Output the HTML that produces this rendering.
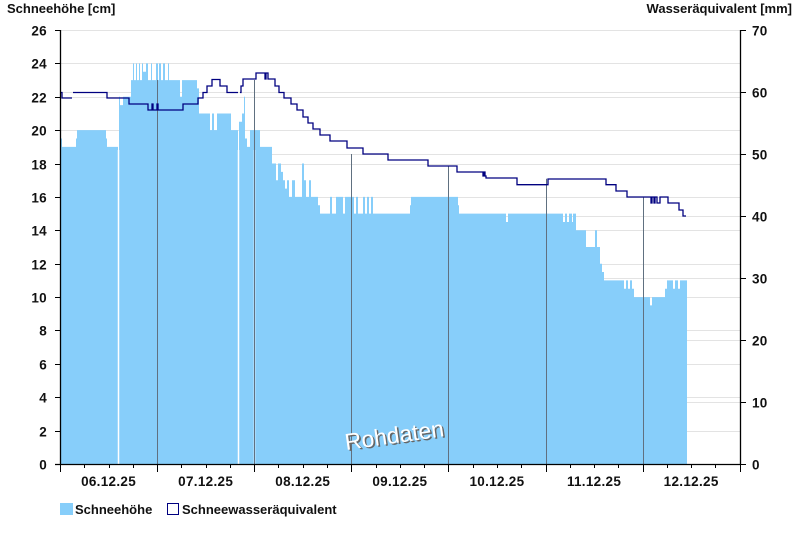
<!DOCTYPE html>
<html><head><meta charset="utf-8"><style>
body{margin:0;background:#fff;}
svg text{font-family:"Liberation Sans",Arial,sans-serif;font-weight:bold;font-size:13px;fill:#111;}
svg text.tk{font-size:13.5px;letter-spacing:0.3px;}
</style></head><body>
<svg width="800" height="550" viewBox="0 0 800 550" xmlns="http://www.w3.org/2000/svg">
<rect width="800" height="550" fill="#fff"/>
<g id="grid" stroke="#e3e3e3" stroke-width="1"></g>
<path id="snow" fill="#87CEFA" stroke="none"/>
<g stroke="#fff" stroke-width="1.5">
<line x1="118.5" y1="150" x2="118.5" y2="464"/>
<line x1="238.5" y1="150" x2="238.5" y2="464"/>
<line x1="254.5" y1="150" x2="254.5" y2="464"/>
</g>
<g id="days" stroke="#607080" stroke-width="1"></g>
<path id="swe" fill="none" stroke="#000080" stroke-width="1.3"/>
<g transform="translate(346,450) rotate(-8)">
<text x="1.5" y="1.5" style="font-size:23px;font-weight:normal;fill:#666">Rohdaten</text>
<text x="0" y="0" style="font-size:23px;font-weight:normal;fill:#fff">Rohdaten</text>
</g>
<g stroke="#000" stroke-width="1.3">
<line x1="60.5" y1="30" x2="60.5" y2="464"/>
<line x1="740.5" y1="30" x2="740.5" y2="464"/>
<line x1="55" y1="464.5" x2="740" y2="464.5"/>
</g>
<g id="ticks" stroke="#000" stroke-width="1"></g>
<g id="labels"></g>
<text x="7" y="13">Schneehöhe [cm]</text>
<text x="792" y="13" text-anchor="end">Wasseräquivalent [mm]</text>
<rect x="60" y="503" width="13" height="12" fill="#87CEFA"/>
<text x="75" y="514">Schneehöhe</text>
<rect x="167.5" y="503.5" width="11" height="11" fill="#fff" stroke="#000080"/>
<text x="182" y="514">Schneewasseräquivalent</text>
</svg>
<script>
const yL=v=>464-v*434/26, yR=v=>464-v*434/70;
let g='',t='',l='';
for(let v=0;v<=26;v+=2){const y=Math.round(yL(v))+.5; if(v>0)g+=`<line x1="61" y1="${y}" x2="740" y2="${y}"/>`; t+=`<line x1="55" y1="${y}" x2="60" y2="${y}"/>`; l+=`<text class="tk" x="47" y="${y+5}" text-anchor="end">${v}</text>`;}
for(let v=0;v<=70;v+=10){const y=Math.round(yR(v))+.5; if(v>0)g+=`<line x1="61" y1="${y}" x2="740" y2="${y}"/>`; t+=`<line x1="740" y1="${y}" x2="746" y2="${y}"/>`; l+=`<text class="tk" x="752" y="${y+5}">${v}</text>`;}
document.getElementById('grid').innerHTML=g;
const d0=60,dw=97.1;let dl='';
const days=['06.12.25','07.12.25','08.12.25','09.12.25','10.12.25','11.12.25','12.12.25'];
for(let i=0;i<7;i++){const x=d0+i*dw;
 for(let q=0;q<4;q++){const xx=Math.round(x+q*dw/4)+.5;t+=`<line x1="${xx}" y1="464" x2="${xx}" y2="${q==0?472:468}"/>`;}
 l+=`<text class="tk" x="${x+dw/2}" y="486" text-anchor="middle">${days[i]}</text>`;
 if(i>0){const xx=Math.round(x)+.5; if(xx<688) dl+=`<line x1="${xx}" y1="${i==1||i==2?80:yR(i==3?50:i==4?48:i==5?46:43)}" x2="${xx}" y2="464"/>`;}
}
t+=`<line x1="740.5" y1="464" x2="740.5" y2="472"/>`;
document.getElementById('days').innerHTML=dl;
document.getElementById('ticks').innerHTML=t;
document.getElementById('labels').innerHTML=l;
const S=[[61,19.5],[62,19],[76,19.5],[77,20],[106,19.5],[107,19],[118,0],[119,22],[120,21.5],[123,22],[131,23],[133,24],[134,23],[136,24],[137,23],[139,24],[140,23],[142,24],[143,23.5],[146,24],[148,23],[151,24],[152,23],[156,24],[158,23],[159,24],[161,23],[163,24],[165,23],[168,24],[169,23],[180,22],[182,23],[197,22.5],[199,21],[210,20],[212,21],[214,20],[217,21],[220,21],[231,20],[234,20],[238,0],[239,20.5],[242,21],[244,22],[245,19.5],[247,19],[250,20],[260,19],[272,18],[276,17],[278,18],[281,17.5],[283,17],[285,16.5],[287,17],[289,16],[292,17],[295,16],[302,18],[304,17],[306,16],[309,17],[311,16],[318,15.5],[320,15],[330,16],[332,15],[336,16],[340,16],[343,15],[345,16],[354,15],[356,16],[358,15],[363,16],[365,15],[367,16],[369,15],[371,16],[373,15],[385,15],[410,15.5],[411,16],[458,15.5],[459,15],[506,14.5],[508,15],[563,14.5],[565,15],[567,14.5],[569,15],[572,14.5],[573,15],[576,14],[586,13],[595,14],[597,13],[600,12],[602,11.5],[604,11],[624,10.5],[626,11],[628,10.5],[630,11],[632,10.5],[634,10],[650,9.5],[652,10],[665,10.5],[667,11],[673,10.5],[675,11],[678,10.5],[680,11],[687,0]];
let p='M61 464';for(let i=0;i<S.length;i++){const [x,v]=S[i];p+=` L${x} ${yL(v)}`;const nx=i+1<S.length?S[i+1][0]:x;p+=` L${nx} ${yL(v)}`;}
p+=' L687 464 Z';document.getElementById('snow').setAttribute('d',p);
const W=[[61,92.5],[62,98],[72,null],[73,92.5],[107,98],[129,104],[148,110],[152,104],[153,110],[157,104],[158,110],[183,104],[198,98],[203,92.5],[207,86],[212,79.5],[220,86],[227,92.5],[238,null],[240,92.5],[241,86],[243,79],[256,73],[265,79],[266,73],[268,79],[275,86],[279,92.5],[284,98],[291,104],[297,110],[303,117],[308,123],[313,129],[320,135],[330,141],[347,148],[363,154],[388,160],[428,166],[457,172],[483,176],[484,172],[485,176],[486,178],[517,184.7],[548,179],[606,184.7],[616,191],[627,197],[651,203],[652,197],[654,203],[655,197],[657,203],[660,197],[668,203],[679,210],[683,216],[686,216]];
let q='';let pen=false;
for(let i=0;i<W.length;i++){const [x,y]=W[i];const nx=i+1<W.length?W[i+1][0]:x;
 if(y===null){pen=false;continue;}
 q+=(pen?` L${x} ${y}`:` M${x} ${y}`)+` L${nx} ${y}`;pen=true;}
document.getElementById('swe').setAttribute('d',q);
</script>
</body></html>
